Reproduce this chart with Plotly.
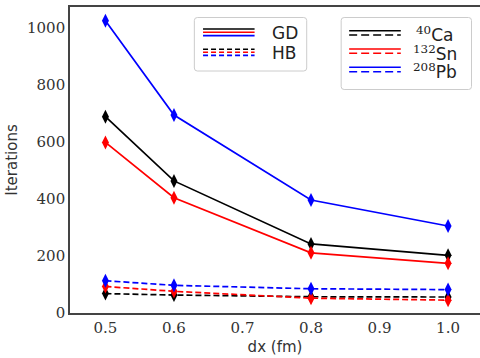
import plotly.graph_objects as go

dx = [0.5, 0.6, 0.8, 1.0]
gd_ca = [688, 463, 242, 202]
gd_sn = [598, 404, 211, 174]
gd_pb = [1024, 694, 396, 305]
hb_ca = [68, 63, 57, 56]
hb_sn = [93, 76, 52, 45]
hb_pb = [113, 97, 85, 82]

xticks = [0.5, 0.6, 0.7, 0.8, 0.9, 1.0]
yticks = [0, 200, 400, 600, 800, 1000]

W, H = 480, 358
L, R, T, B = 69.5, 0, 7, 45
PW, PH = W - L - R, H - T - B
SERIF = "DejaVu Serif"

def px(x):
    return (x - L) / PW

def py(y):
    return (H - B - y) / PH

fig = go.Figure()
series = [
    (gd_ca, "black", "solid"), (gd_sn, "red", "solid"), (gd_pb, "blue", "solid"),
    (hb_ca, "black", "6px,3px"), (hb_sn, "red", "6px,3px"), (hb_pb, "blue", "6px,3px"),
]
for vals, col, dash in series:
    fig.add_trace(go.Scatter(
        x=dx, y=vals, mode="lines+markers",
        line=dict(color=col, width=1.7, dash=dash),
        marker=dict(symbol="diamond-tall", size=10, color=col, line=dict(width=0)),
        showlegend=False,
    ))

shapes = []
def box(x0, y0, x1, y1):
    r = 3
    path = (f"M {px(x0+r)} {py(y0)} L {px(x1-r)} {py(y0)} Q {px(x1)} {py(y0)} {px(x1)} {py(y0+r)} "
            f"L {px(x1)} {py(y1-r)} Q {px(x1)} {py(y1)} {px(x1-r)} {py(y1)} "
            f"L {px(x0+r)} {py(y1)} Q {px(x0)} {py(y1)} {px(x0)} {py(y1-r)} "
            f"L {px(x0)} {py(y0+r)} Q {px(x0)} {py(y0)} {px(x0+r)} {py(y0)} Z")
    shapes.append(dict(type="path", xref="paper", yref="paper", path=path,
                       line=dict(color="#cccccc", width=1), fillcolor="rgba(255,255,255,0.85)"))

def seg(x0, x1, y, col, dash):
    shapes.append(dict(type="line", xref="paper", yref="paper",
                       x0=px(x0), x1=px(x1), y0=py(y), y1=py(y),
                       line=dict(color=col, width=1.6, dash=dash)))

box(194, 17.5, 306.5, 71)
for y, c in [(29, "black"), (32.3, "red"), (35.6, "blue")]:
    seg(202.7, 254.3, y, c, "solid")
for y, c in [(49.2, "black"), (52.3, "red"), (55.4, "blue")]:
    seg(202.7, 254.3, y, c, "5px,3px")

box(341, 17.5, 471.5, 89.5)
for y, c in [(30.7, "black"), (49, "red"), (67.3, "blue")]:
    seg(349, 400.7, y, c, "solid")
for y, c in [(35, "black"), (53.3, "red"), (71.8, "blue")]:
    seg(349, 400.7, y, c, "8px,4px")

annos = []
def txt(x, y, s, anchor="left"):
    annos.append(dict(xref="paper", yref="paper", x=px(x), y=py(y), text=s, showarrow=False,
                      xanchor=anchor, yanchor="middle",
                      font=dict(family="DejaVu Sans", size=17, color="#222222")))

txt(270, 33, "GD")
txt(270, 52.5, "HB")
sup = lambda n: f'<sup><span style="font-family:DejaVu Serif">{n}</span></sup>'
txt(414, 34, sup("40") + "Ca")
txt(411, 52.5, sup("132") + "Sn")
txt(411, 70.5, sup("208") + "Pb")

fig.update_layout(
    width=W, height=H,
    margin=dict(l=L, r=R, t=T, b=B),
    paper_bgcolor="white", plot_bgcolor="white",
    shapes=shapes, annotations=annos,
    xaxis=dict(
        range=[0.5 - (105 - L) / 686, 0.5 + (W - 105) / 686],
        tickvals=xticks, ticktext=[f"{v:.1f}" for v in xticks],
        showgrid=False, zeroline=False, ticks="",
        showline=True, linecolor="#444444", linewidth=1.6, mirror=True,
        tickfont=dict(family=SERIF, size=15, color="#333333"),
        title=dict(text="dx (fm)", font=dict(family="DejaVu Sans", size=15, color="#333333"), standoff=6),
    ),
    yaxis=dict(
        range=[0, 306 / 0.2853],
        tickvals=yticks, ticktext=[str(v) for v in yticks],
        showgrid=False, zeroline=False, ticks="",
        showline=True, linecolor="#444444", linewidth=1.6, mirror=False,
        tickfont=dict(family=SERIF, size=15, color="#333333"),
        title=dict(text="Iterations", font=dict(family="DejaVu Sans", size=15, color="#333333"), standoff=6),
    ),
)

fig.write_html("out.html")
